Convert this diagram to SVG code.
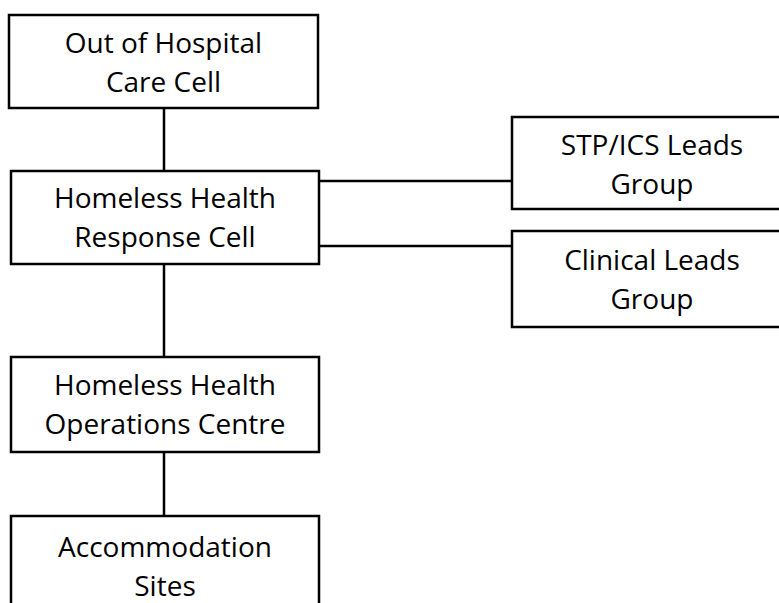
<svg xmlns="http://www.w3.org/2000/svg" width="779" height="603" viewBox="0 0 779 603">
<style>
.box{fill:#fff;stroke:#000;stroke-width:2.5}
.t{font-family:"Open Sans","Noto Sans",sans-serif;font-size:28px;fill:#000;text-anchor:middle}
.c{stroke:#000;stroke-width:2.5;fill:none}
</style>
<rect width="779" height="603" fill="#fff"/>
<g id="connectors">
<line class="c" x1="164" y1="108" x2="164" y2="171"/>
<line class="c" x1="164" y1="264" x2="164" y2="357"/>
<line class="c" x1="164" y1="452" x2="164" y2="516"/>
<line class="c" x1="319" y1="181" x2="512" y2="181"/>
<line class="c" x1="319" y1="246" x2="512" y2="246"/>
</g>
<g id="out-of-hospital">
<rect class="box" x="9" y="15" width="309" height="93"/>
<text class="t" x="163.5" y="53">Out of Hospital</text>
<text class="t" x="163.5" y="92">Care Cell</text>
</g>
<g id="response-cell">
<rect class="box" x="11" y="171" width="308" height="93"/>
<text class="t" x="165" y="208">Homeless Health</text>
<text class="t" x="165" y="247">Response Cell</text>
</g>
<g id="stp-ics">
<rect class="box" x="512" y="117" width="280" height="92"/>
<text class="t" x="652" y="155">STP/ICS Leads</text>
<text class="t" x="652" y="194">Group</text>
</g>
<g id="clinical-leads">
<rect class="box" x="512" y="231" width="280" height="96"/>
<text class="t" x="652" y="270">Clinical Leads</text>
<text class="t" x="652" y="309">Group</text>
</g>
<g id="operations-centre">
<rect class="box" x="11" y="357" width="308" height="95"/>
<text class="t" x="165" y="395">Homeless Health</text>
<text class="t" x="165" y="434">Operations Centre</text>
</g>
<g id="accommodation">
<rect class="box" x="11" y="516" width="308" height="100"/>
<text class="t" x="165" y="557">Accommodation</text>
<text class="t" x="165" y="596">Sites</text>
</g>
</svg>
